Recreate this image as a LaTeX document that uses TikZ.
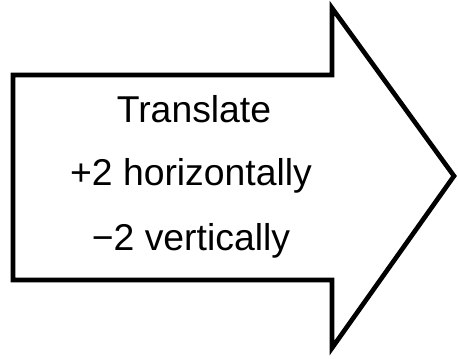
\documentclass[tikz,border=0pt]{standalone}
\usepackage{fontspec}
\setmainfont{Liberation Sans}
\usepackage{tikz}

\tikzset{
	outline/.style={draw=black, line width=3.5pt, line join=miter, fill=white},
	label/.style={anchor=base, font=\fontsize{28}{32}\selectfont}
}

\begin{document}
\begin{tikzpicture}[x=0.75pt, y=-0.75pt]
		\useasboundingbox (0, 0) rectangle (458, 358);

		\draw[outline] (13, 75) -- (332, 75) -- (332, 8) -- (454, 176)
			-- (332, 348) -- (332, 280) -- (13, 280) -- cycle;

		\node[label] at (194, 122) (l1) {Translate};
		\node[label] at (191, 185) (l2) {+2 horizontally};
		\node[label] at (191, 250) (l3) {−2 vertically};
	\end{tikzpicture}
\end{document}
